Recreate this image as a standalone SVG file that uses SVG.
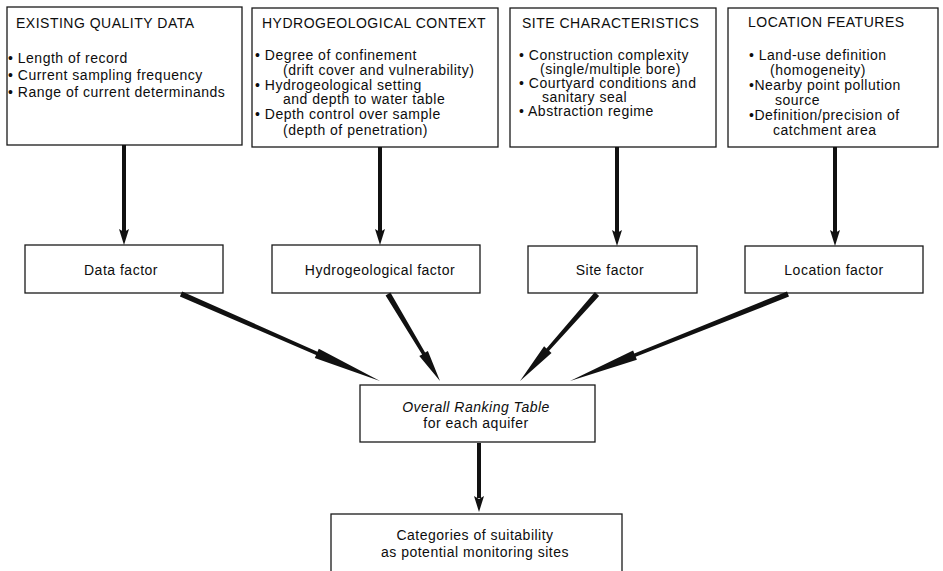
<svg xmlns="http://www.w3.org/2000/svg" width="943" height="571" viewBox="0 0 943 571">
  <style>
    .box { fill: #ffffff; stroke: #1a1a1a; stroke-width: 1.3; }
    text { font-family: "Liberation Sans", Arial, Helvetica, sans-serif; font-size: 14px; fill: #0d0d0d; letter-spacing: 0.5px; }
    .mid { text-anchor: middle; }
    .it { font-style: italic; }
    .shaft { stroke: #111111; stroke-width: 4; fill: none; }
    .head { fill: #111111; }
  </style>
  <defs>
    <!-- downward arrowhead, tip at origin -->
    <polygon id="down-head" class="head" points="0,0 -5,-16 0,-13 5,-16"/>
  </defs>
  <rect x="0" y="0" width="943" height="571" fill="#ffffff"/>

  <!-- input boxes -->
  <g id="existing-quality-data">
    <rect class="box" x="7" y="7" width="235" height="138"/>
    <text x="16" y="28">EXISTING QUALITY DATA</text>
    <text x="8" y="63">• Length of record</text>
    <text x="8" y="80">• Current sampling frequency</text>
    <text x="8" y="97">• Range of current determinands</text>
  </g>

  <g id="hydrogeological-context">
    <rect class="box" x="252" y="8" width="246" height="139"/>
    <text x="262" y="28">HYDROGEOLOGICAL CONTEXT</text>
    <text x="255" y="60">• Degree of confinement</text>
    <text x="283" y="75">(drift cover and vulnerability)</text>
    <text x="255" y="90">• Hydrogeological setting</text>
    <text x="283" y="104">and depth to water table</text>
    <text x="255" y="119">• Depth control over sample</text>
    <text x="283" y="135">(depth of penetration)</text>
  </g>

  <g id="site-characteristics">
    <rect class="box" x="510" y="8" width="206" height="139"/>
    <text x="522" y="28">SITE CHARACTERISTICS</text>
    <text x="519" y="60">• Construction complexity</text>
    <text x="540" y="74">(single/multiple bore)</text>
    <text x="519" y="88">• Courtyard conditions and</text>
    <text x="542" y="102">sanitary seal</text>
    <text x="519" y="116">• Abstraction regime</text>
  </g>

  <g id="location-features">
    <rect class="box" x="728" y="8" width="210" height="139"/>
    <text x="748" y="27">LOCATION FEATURES</text>
    <text x="749" y="60">• Land-use definition</text>
    <text x="770" y="75">(homogeneity)</text>
    <text x="749" y="90">•Nearby point pollution</text>
    <text x="775" y="105">source</text>
    <text x="749" y="120">•Definition/precision of</text>
    <text x="773" y="135">catchment area</text>
  </g>

  <!-- factor boxes -->
  <g id="data-factor">
    <rect class="box" x="25" y="245" width="198" height="48"/>
    <text class="mid" x="121" y="275">Data factor</text>
  </g>
  <g id="hydrogeological-factor">
    <rect class="box" x="272" y="245" width="208" height="48"/>
    <text class="mid" x="380" y="275">Hydrogeological factor</text>
  </g>
  <g id="site-factor">
    <rect class="box" x="528" y="246" width="169" height="47"/>
    <text class="mid" x="610" y="275">Site factor</text>
  </g>
  <g id="location-factor">
    <rect class="box" x="745" y="246" width="178" height="47"/>
    <text class="mid" x="834" y="275">Location factor</text>
  </g>

  <!-- ranking and outcome -->
  <g id="overall-ranking">
    <rect class="box" x="360" y="385" width="235" height="57"/>
    <text class="mid it" x="476" y="412">Overall Ranking Table</text>
    <text class="mid" x="476" y="428">for each aquifer</text>
  </g>
  <g id="categories">
    <rect class="box" x="331" y="514" width="291" height="70"/>
    <text class="mid" x="475" y="540">Categories of suitability</text>
    <text class="mid" x="475" y="557">as potential monitoring sites</text>
  </g>

  <!-- connectors -->
  <g id="connectors">
    <line class="shaft" x1="124" y1="145" x2="124" y2="234"/>
    <use href="#down-head" x="124" y="245"/>
    <line class="shaft" x1="380" y1="147" x2="380" y2="234"/>
    <use href="#down-head" x="380" y="245"/>
    <line class="shaft" x1="617" y1="147" x2="617" y2="235"/>
    <use href="#down-head" x="617" y="246"/>
    <line class="shaft" x1="835" y1="147" x2="835" y2="235"/>
    <use href="#down-head" x="835" y="246"/>

    <!-- tapered diagonal arrows into the ranking table -->
    <polygon class="head" points="182.1,291.4 317.5,351.8 318.8,348.8 380,381 314.8,358.0 316.1,355.0 179.9,296.6"/>
    <polygon class="head" points="390.4,292.6 425.1,352.6 427.9,350.9 440,381 419.3,356.1 422.1,354.4 385.6,295.4"/>
    <polygon class="head" points="599.1,295.9 549.1,350.8 551.5,352.9 520,381 544.1,346.3 546.5,348.4 594.9,292.1"/>
    <polygon class="head" points="789.0,296.6 635.7,356.8 636.9,359.7 570,381 633.1,350.5 634.3,353.4 787.0,291.4"/>

    <line class="shaft" x1="479" y1="443" x2="479" y2="498"/>
    <use href="#down-head" x="479" y="512"/>
  </g>
</svg>
